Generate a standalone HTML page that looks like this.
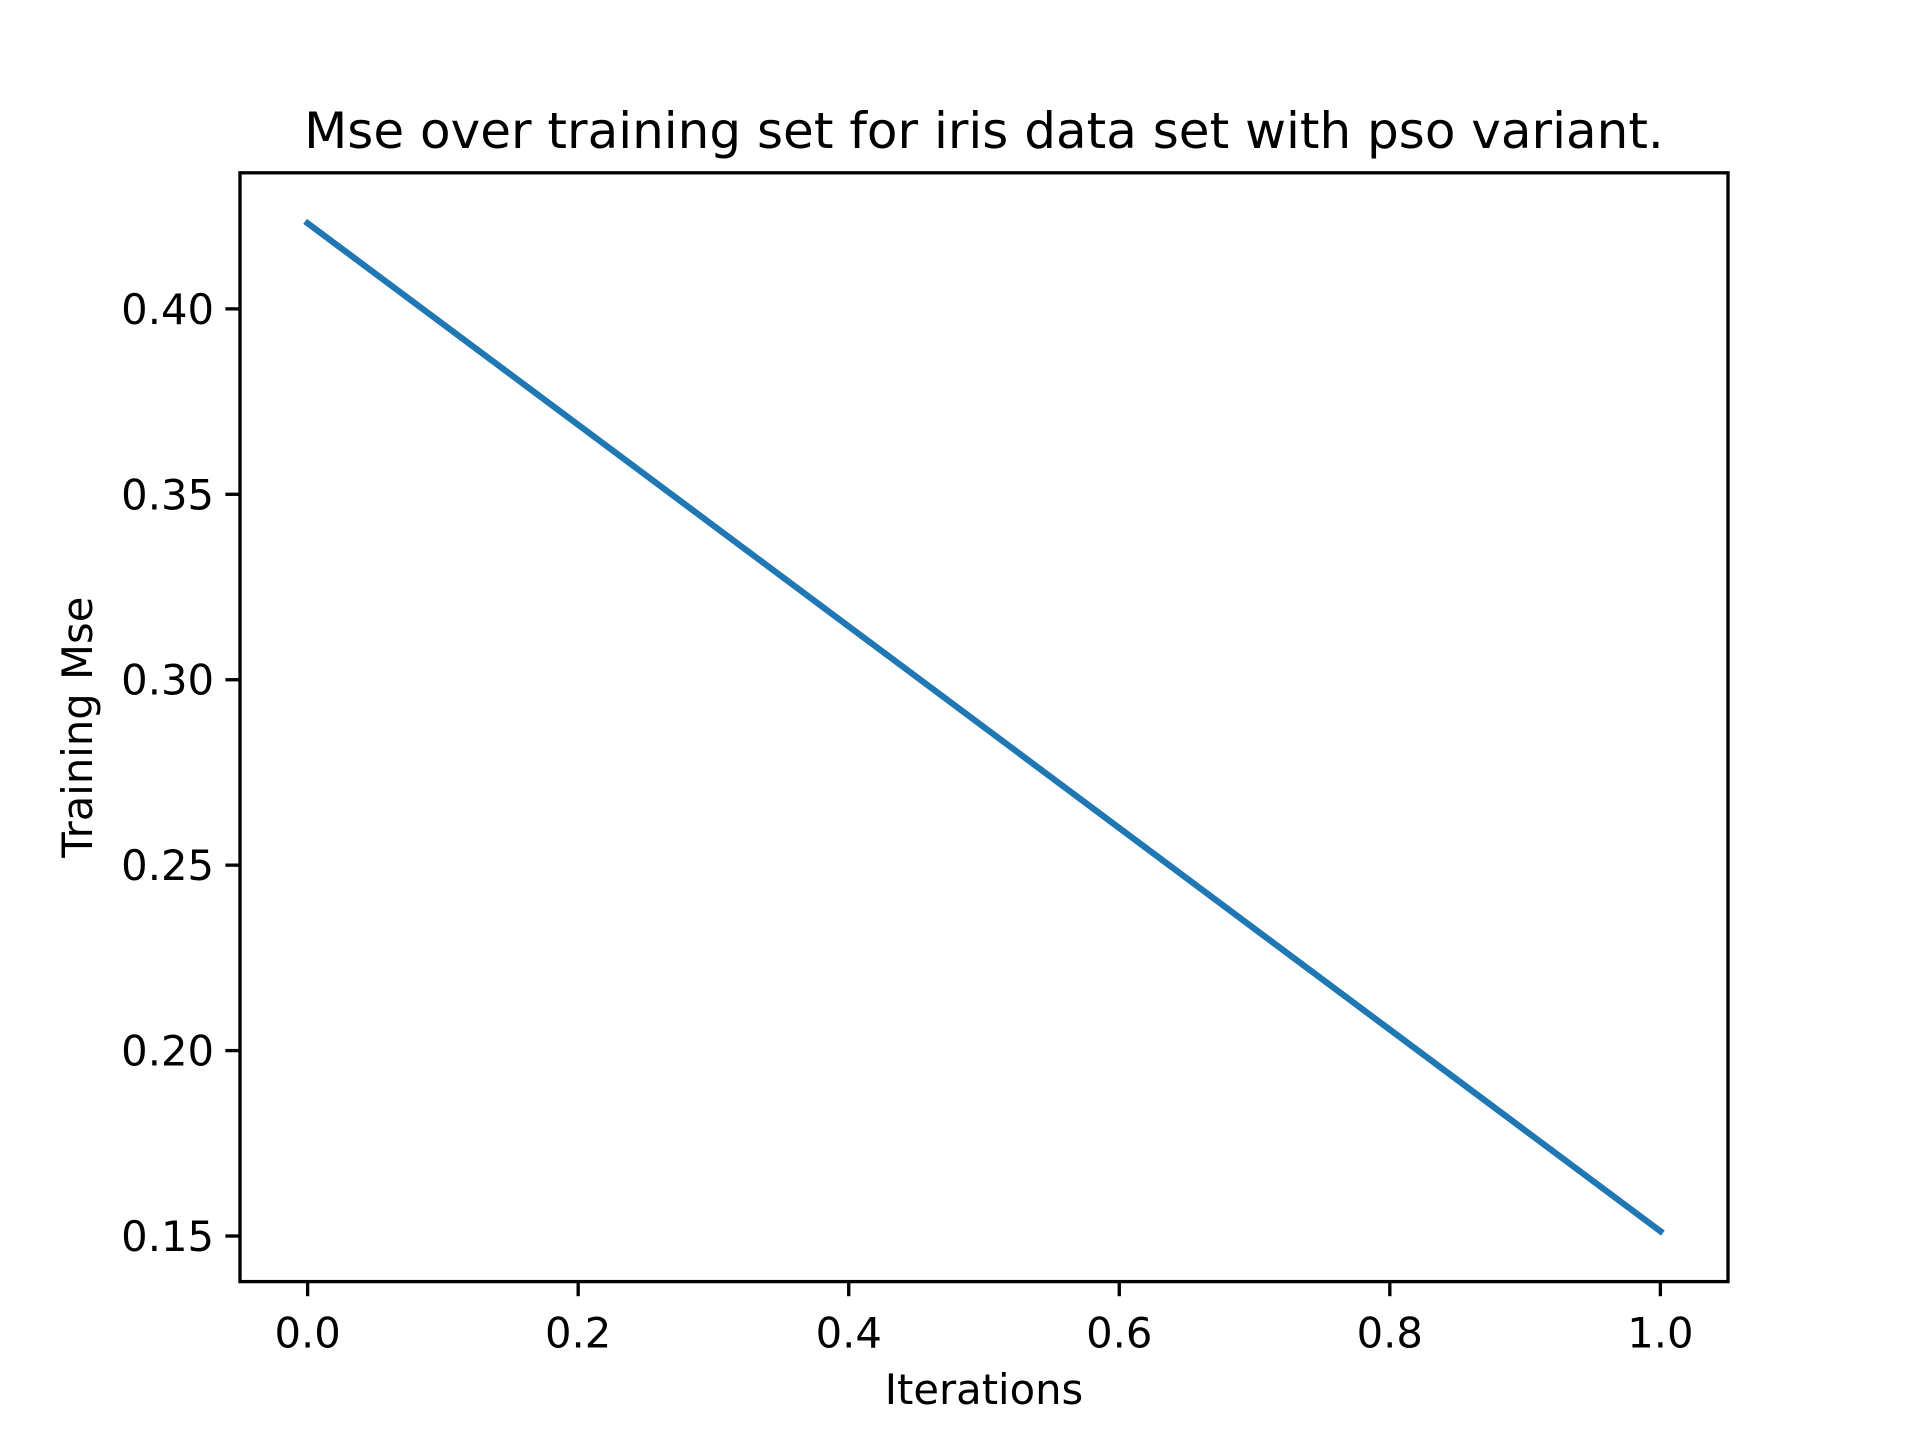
<!DOCTYPE html>
<html><head><meta charset="utf-8"><style>
html,body{margin:0;padding:0;background:#fff;}
svg{display:block;font-family:"DejaVu Sans","Liberation Sans",sans-serif;}
</style></head><body>
<svg id="chart" width="1920" height="1440" viewBox="0 0 1920 1440" xmlns="http://www.w3.org/2000/svg">
<rect width="1920" height="1440" fill="#fff"/>
<g id="plot"></g>
</svg>
<script>
const xValues = [0, 1];
const yValues = [0.4231, 0.1513];
const xTicks = [0.0, 0.2, 0.4, 0.6, 0.8, 1.0];
const xTickLabels = ["0.0","0.2","0.4","0.6","0.8","1.0"];
const yTicks = [0.15, 0.20, 0.25, 0.30, 0.35, 0.40];
const yTickLabels = ["0.15","0.20","0.25","0.30","0.35","0.40"];

const NS = "http://www.w3.org/2000/svg";
const L = 240, R = 1728, T = 172.8, B = 1281.6;
const xmin = Math.min(...xValues), xmax = Math.max(...xValues);
const ymin = Math.min(...yValues), ymax = Math.max(...yValues);
const xpad = (xmax - xmin) * 0.05, ypad = (ymax - ymin) * 0.05;
const x0 = xmin - xpad, x1 = xmax + xpad, y0 = ymin - ypad, y1 = ymax + ypad;
const sx = v => L + (v - x0) / (x1 - x0) * (R - L);
const sy = v => B - (v - y0) / (y1 - y0) * (B - T);
const g = document.getElementById('plot');
function mk(tag, attrs, text) {
  const e = document.createElementNS(NS, tag);
  for (const k in attrs) e.setAttribute(k, attrs[k]);
  if (text !== undefined) e.textContent = text;
  g.appendChild(e);
  return e;
}
const pts = xValues.map((x, i) => sx(x) + ',' + sy(yValues[i])).join(' ');
const line = mk('polyline', {points: pts, fill: 'none', stroke: '#1f77b4', 'stroke-width': 6.25, 'stroke-linecap': 'square'});


const frame = mk('rect', {x: L, y: T, width: R - L, height: B - T, fill: 'none', stroke: '#000', 'stroke-width': 3.33});


xTicks.forEach((t, i) => {
  const tk = mk('line', {x1: sx(t), x2: sx(t), y1: B, y2: B + 14.6, stroke: '#000', 'stroke-width': 3.33});
  
  
  const lb = mk('text', {x: sx(t), y: B + 66, 'font-size': 41.7, 'text-anchor': 'middle', fill: '#000'}, xTickLabels[i]);
  
  
});
yTicks.forEach((t, i) => {
  const tk = mk('line', {x1: L - 14.6, x2: L, y1: sy(t), y2: sy(t), stroke: '#000', 'stroke-width': 3.33});
  
  
  const lb = mk('text', {x: L - 26, y: sy(t) + 15, 'font-size': 41.7, 'text-anchor': 'end', fill: '#000'}, yTickLabels[i]);
  
  
});
const title = mk('text', {x: (L + R) / 2, y: 148, 'font-size': 50, 'text-anchor': 'middle', fill: '#000'}, 'Mse over training set for iris data set with pso variant.');


const xt = mk('text', {x: (L + R) / 2, y: 1404, 'font-size': 41.7, 'text-anchor': 'middle', fill: '#000'}, 'Iterations');


const yt = mk('text', {x: 0, y: 0, 'font-size': 41.7, 'text-anchor': 'middle', fill: '#000', transform: 'translate(92,' + ((T + B) / 2) + ') rotate(-90)'}, 'Training Mse');


</script>
</body></html>
